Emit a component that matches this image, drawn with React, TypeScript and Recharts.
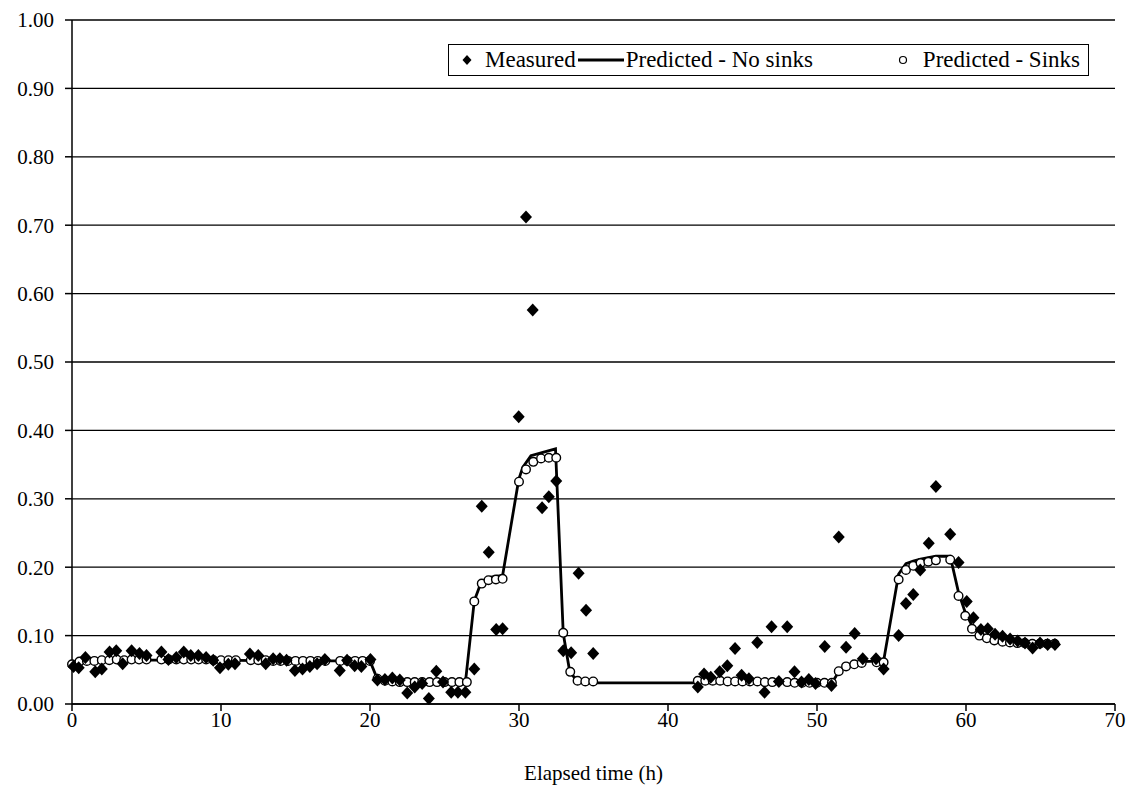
import React from 'react';
import { ScatterChart, Scatter, XAxis, YAxis, CartesianGrid } from 'recharts';

const measuredTime = [
  0.1, 0.45, 0.9, 1.56, 2.0, 2.52, 2.97, 3.4, 4.0, 4.53, 5.0, 6.0, 6.47, 7.0, 7.5, 7.97, 8.48, 9.0, 9.48, 9.93,
  10.49, 10.94, 11.94, 12.5, 13.0, 13.5, 13.95, 14.4, 14.96, 15.47, 15.96, 16.45, 16.97, 17.97, 18.46, 18.97, 19.42, 20.03,
  20.5, 21.0, 21.5, 22.0, 22.5, 23.0, 23.5, 23.95, 24.45, 24.9, 25.45, 25.9, 26.4,
  27.0, 27.5, 27.97, 28.47, 28.9, 29.98, 30.47, 30.92, 31.55, 32.0, 32.5, 32.97, 33.5, 34.0, 34.5, 34.98,
  42.0, 42.42, 42.87, 43.47, 43.98, 44.5, 44.94, 45.43, 45.99, 46.48, 46.95, 47.44, 48.0, 48.49, 48.96, 49.45, 49.9,
  50.52, 50.97, 51.46, 51.95, 52.53, 53.07, 53.96, 54.47, 55.48, 55.97, 56.46, 56.93, 57.5, 57.98, 58.94, 59.5,
  60.05, 60.5, 61.0, 61.46, 61.95, 62.45, 62.96, 63.47, 63.96, 64.47, 64.97, 65.48, 65.97,
];
const measuredValue = [
  0.055, 0.053, 0.068, 0.047, 0.051, 0.076, 0.078, 0.059, 0.078, 0.074, 0.071, 0.076, 0.065, 0.068, 0.076, 0.071, 0.071, 0.068, 0.064, 0.053,
  0.058, 0.059, 0.073, 0.071, 0.059, 0.066, 0.066, 0.064, 0.049, 0.051, 0.055, 0.059, 0.065, 0.049, 0.064, 0.056, 0.055, 0.065,
  0.035, 0.036, 0.038, 0.035, 0.016, 0.025, 0.030, 0.008, 0.048, 0.032, 0.017, 0.017, 0.017,
  0.051, 0.289, 0.222, 0.109, 0.110, 0.420, 0.712, 0.576, 0.287, 0.303, 0.326, 0.078, 0.075, 0.191, 0.137, 0.074,
  0.025, 0.044, 0.039, 0.047, 0.056, 0.081, 0.042, 0.037, 0.090, 0.017, 0.113, 0.033, 0.113, 0.047, 0.032, 0.036, 0.030,
  0.084, 0.027, 0.244, 0.083, 0.103, 0.066, 0.066, 0.051, 0.100, 0.147, 0.160, 0.196, 0.235, 0.318, 0.248, 0.207,
  0.150, 0.126, 0.109, 0.110, 0.102, 0.099, 0.095, 0.092, 0.089, 0.082, 0.089, 0.087, 0.087,
];

const noSinksTime = [
  0.0, 0.5, 1.0, 2.0, 3.0, 5.0, 10.0, 15.0, 20.0, 20.5, 21.0, 22.0, 26.4,
  27.0, 27.46, 28.0, 28.9, 29.98, 30.25, 30.8, 31.6, 32.45, 32.97, 33.4, 33.9, 34.45,
  51.0, 51.46, 51.95, 52.5, 53.0, 54.47, 55.48, 55.97, 56.46, 56.95, 57.47, 57.98, 58.94,
  59.5, 59.95, 60.4, 60.9, 61.4, 61.9, 62.45, 62.95, 63.95, 64.95, 65.95,
];
const noSinksValue = [
  0.060, 0.062, 0.063, 0.064, 0.064, 0.064, 0.064, 0.063, 0.063, 0.036, 0.033, 0.031, 0.031,
  0.151, 0.178, 0.185, 0.188, 0.328, 0.346, 0.363, 0.368, 0.373, 0.103, 0.048, 0.033, 0.031,
  0.031, 0.047, 0.056, 0.060, 0.062, 0.063, 0.190, 0.205, 0.209, 0.212, 0.214, 0.216, 0.216,
  0.163, 0.134, 0.115, 0.104, 0.099, 0.096, 0.094, 0.092, 0.090, 0.088, 0.087,
];

const sinksTime = [
  0.0, 0.5, 1.0, 1.5, 2.0, 2.5, 3.0, 3.5, 4.0, 4.5, 5.0, 6.0, 6.5, 7.0, 7.5, 8.0, 8.5, 9.0, 9.5, 10.0,
  10.5, 11.0, 12.0, 12.5, 13.0, 13.5, 14.0, 14.5, 15.0, 15.5, 16.0, 16.5, 17.0, 18.0, 18.5, 19.0, 19.5, 20.0,
  20.5, 21.0, 21.5, 22.0, 22.5, 23.0, 23.5, 24.0, 24.5, 25.0, 25.5, 26.0, 26.5,
  27.0, 27.5, 27.95, 28.45, 28.9, 30.0, 30.47, 30.96, 31.48, 32.0, 32.5, 32.97, 33.44, 33.93, 34.45, 34.98,
  42.0, 42.5, 43.0, 43.5, 44.0, 44.5, 45.0, 45.5, 46.0, 46.5, 47.0, 48.0, 48.5, 49.0, 49.5, 50.0, 50.5, 51.0,
  51.46, 51.95, 52.5, 53.0, 54.0, 54.47, 55.48, 55.97, 56.46, 56.95, 57.47, 57.98, 58.94,
  59.5, 59.95, 60.4, 60.9, 61.4, 61.9, 62.45, 62.95, 63.45, 63.95, 64.45, 64.95, 65.45, 65.95,
];
const sinksValue = [
  0.058, 0.062, 0.063, 0.063, 0.064, 0.064, 0.065, 0.064, 0.065, 0.065, 0.065, 0.065, 0.065, 0.065, 0.065, 0.065, 0.065, 0.065, 0.064, 0.064,
  0.064, 0.064, 0.064, 0.064, 0.064, 0.063, 0.063, 0.063, 0.063, 0.063, 0.063, 0.063, 0.063, 0.063, 0.063, 0.063, 0.063, 0.063,
  0.037, 0.034, 0.033, 0.032, 0.032, 0.032, 0.032, 0.032, 0.032, 0.032, 0.032, 0.032, 0.032,
  0.150, 0.176, 0.181, 0.182, 0.183, 0.325, 0.343, 0.354, 0.359, 0.360, 0.360, 0.104, 0.047, 0.034, 0.033, 0.033,
  0.034, 0.034, 0.034, 0.034, 0.033, 0.033, 0.033, 0.033, 0.033, 0.032, 0.032, 0.032, 0.031, 0.031, 0.031, 0.031, 0.031, 0.031,
  0.048, 0.055, 0.058, 0.060, 0.061, 0.061, 0.182, 0.196, 0.202, 0.206, 0.208, 0.210, 0.211,
  0.158, 0.129, 0.110, 0.100, 0.096, 0.093, 0.091, 0.090, 0.089, 0.089, 0.088, 0.088, 0.088, 0.088,
];

const xTicks = [0, 10, 20, 30, 40, 50, 60, 70];
const yTicks = [0, 0.1, 0.2, 0.3, 0.4, 0.5, 0.6, 0.7, 0.8, 0.9, 1.0];

const measuredData = measuredTime.map((x, i) => ({ x, y: measuredValue[i] }));
const noSinksData = noSinksTime.map((x, i) => ({ x, y: noSinksValue[i] }));
const sinksData = sinksTime.map((x, i) => ({ x, y: sinksValue[i] }));

const FONT = "'Liberation Serif', 'Times New Roman', Tinos, 'DejaVu Serif', serif";
const FS = 21;

const Diamond = (props: any) => {
  const { cx, cy } = props;
  if (cx == null || cy == null) return <g />;
  return (
    <polygon
      points={`${cx},${cy - 6.5} ${cx + 6},${cy} ${cx},${cy + 6.5} ${cx - 6},${cy}`}
      fill="#000"
    />
  );
};

const OpenCircle = (props: any) => {
  const { cx, cy } = props;
  if (cx == null || cy == null) return <g />;
  return <circle cx={cx} cy={cy} r={4.3} fill="#fff" stroke="#000" strokeWidth={1.4} />;
};

const NoShape = () => <g />;

const LegendBox = () => (
  <div
    style={{
      position: 'absolute',
      left: 448,
      top: 44,
      width: 641,
      height: 32,
      boxSizing: 'border-box',
      display: 'flex',
      alignItems: 'center',
      justifyContent: 'space-between',
      border: '1.5px solid #000',
      background: '#fff',
      padding: '0 8px 0 12px',
      fontFamily: FONT,
      fontSize: 23,
      whiteSpace: 'nowrap',
      color: '#000',
    }}
  >
    <span style={{ display: 'flex', alignItems: 'center' }}>
      <svg width={12} height={12} style={{ marginRight: 12 }}>
        <polygon points="6,1 10.5,6 6,11 1.5,6" fill="#000" />
      </svg>
      <span>Measured</span>
      <svg width={46} height={10} style={{ margin: '0 2px' }}>
        <line x1={0} y1={5} x2={46} y2={5} stroke="#000" strokeWidth={2.8} />
      </svg>
      <span>Predicted - No sinks</span>
    </span>
    <span style={{ display: 'flex', alignItems: 'center' }}>
      <svg width={12} height={12} style={{ marginRight: 14 }}>
        <circle cx={6} cy={6} r={3.5} fill="#fff" stroke="#000" strokeWidth={1.2} />
      </svg>
      <span>Predicted - Sinks</span>
    </span>
  </div>
);

export default function App() {
  return (
    <div style={{ position: 'absolute', left: 0, top: 0, width: 1135, height: 789, background: '#fff' }}>
      <ScatterChart width={1135} height={789} margin={{ top: 20, right: 20, left: 0, bottom: 0 }}>
        <CartesianGrid vertical={false} stroke="#000" strokeWidth={1.3} />
        <XAxis
          type="number"
          dataKey="x"
          domain={[0, 70]}
          ticks={xTicks}
          interval={0}
          height={85}
          tickSize={7}
          tickMargin={1}
          axisLine={{ stroke: '#000', strokeWidth: 1.5 }}
          tickLine={{ stroke: '#000', strokeWidth: 1.5 }}
          tick={{ fill: '#000', fontSize: FS, fontFamily: FONT }}
          label={{ value: 'Elapsed time (h)', position: 'insideBottom', offset: 9, fill: '#000', fontSize: FS, fontFamily: FONT }}
        />
        <YAxis
          type="number"
          dataKey="y"
          domain={[0, 1]}
          ticks={yTicks}
          interval={0}
          width={72}
          tickSize={7}
          tickMargin={11}
          tickFormatter={(v: number) => v.toFixed(2)}
          axisLine={{ stroke: '#000', strokeWidth: 1.5 }}
          tickLine={{ stroke: '#000', strokeWidth: 1.5 }}
          tick={{ fill: '#000', fontSize: FS, fontFamily: FONT }}
        />
        <Scatter
          name="Predicted - No sinks"
          data={noSinksData}
          line={{ stroke: '#000', strokeWidth: 2.8 }}
          shape={NoShape}
          isAnimationActive={false}
        />
        <Scatter name="Predicted - Sinks" data={sinksData} shape={OpenCircle} isAnimationActive={false} />
        <Scatter name="Measured" data={measuredData} shape={Diamond} isAnimationActive={false} />
      </ScatterChart>
      <LegendBox />
    </div>
  );
}
